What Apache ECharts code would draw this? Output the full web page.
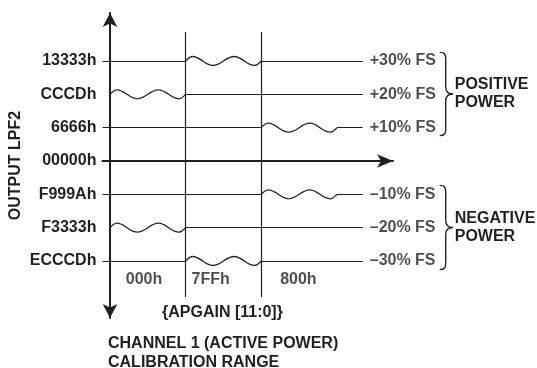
<!DOCTYPE html>
<html>
<head>
<meta charset="utf-8">
<script src="https://cdn.jsdelivr.net/npm/echarts@6/dist/echarts.min.js"></script>
<style>
  html, body { margin: 0; padding: 0; background: #fff; }
  #chart { width: 537px; height: 368px; }
</style>
</head>
<body>
<div id="chart"></div>
<script>
// output levels (% of full scale) with their codes
const levels = [30, 20, 10, 0, -10, -20, -30];
const levelCodes = ["13333h", "CCCDh", "6666h", "00000h", "F999Ah", "F3333h", "ECCCDh"];
const levelFs = ["+30% FS", "+20% FS", "+10% FS", "", "\u201310% FS", "\u201320% FS", "\u201330% FS"];
// APGAIN column in which each level carries the ripple (null = none)
const rippleColumn = [1, 0, 2, null, 2, 0, 1];
const columns = ["000h", "7FFh", "800h"];
const columnLabelX = [0.45, 1.33, 2.49];
const dividers = [1, 2];
const groupNames = ["POSITIVE\nPOWER", "NEGATIVE\nPOWER"];
const groupTop = [32.6, -7.3];
const groupBottom = [7.6, -32.6];

const lineEnd = 3.34;
const ink = "#231f20";
const font = "Liberation Sans, Arial, sans-serif";
const fs = 16;

const chart = echarts.init(document.getElementById("chart"));

const segments = [];
levels.forEach((lv, i) => {
  if (lv === 0) return;
  const c = rippleColumn[i];
  if (c > 0) segments.push({ coords: [[-0.1, lv], [c, lv]] });
  segments.push({ coords: [[c + 1, lv], [lineEnd, lv]] });
});
dividers.forEach((d) => {
  segments.push({ coords: [[d, 38.7], [d, -40.8]] });
});

const ripples = [];
levels.forEach((lv, i) => {
  if (rippleColumn[i] !== null) ripples.push([rippleColumn[i], lv]);
});

// ripple glyph: key points along the column (fraction, direction)
const rippleT = [0, 0.09, 0.36, 0.64, 0.91, 1];
const rippleD = [0, -1, 1, -1, 1, 0];

const renderRipple = (params, api) => {
  const p0 = api.coord([api.value(0), api.value(1)]);
  const p1 = api.coord([api.value(0) + 1, api.value(1)]);
  const w = p1[0] - p0[0];
  const amp = 4.5;
  const children = [];
  for (let k = 0; k < rippleT.length - 1; k++) {
    const xa = p0[0] + rippleT[k] * w;
    const xb = p0[0] + rippleT[k + 1] * w;
    const ya = p0[1] + rippleD[k] * amp;
    const yb = p0[1] + rippleD[k + 1] * amp;
    const dx = xb - xa;
    let c1y = ya;
    let c2y = yb;
    if (rippleD[k] === 0) c1y = ya + (yb - ya) * 0.55;
    if (rippleD[k + 1] === 0) c2y = yb + (ya - yb) * 0.55;
    children.push({
      type: "bezierCurve",
      shape: {
        x1: xa, y1: ya, x2: xb, y2: yb,
        cpx1: xa + dx * 0.38, cpy1: c1y,
        cpx2: xb - dx * 0.38, cpy2: c2y,
      },
      style: { stroke: ink, lineWidth: 1.3, fill: null },
    });
  }
  return { type: "group", children: children };
};

const renderBrace = (params, api) => {
  const top = api.coord([lineEnd, api.value(0)]);
  const bot = api.coord([lineEnd, api.value(1)]);
  const xl = top[0] + 77;
  const xm = xl + 6;
  const xt = xl + 13;
  const yt = top[1];
  const yb = bot[1];
  const ym = (yt + yb) / 2;
  const st = { stroke: ink, lineWidth: 1.4, fill: null };
  const bz = (x1, y1, cpx1, cpy1, cpx2, cpy2, x2, y2) => ({
    type: "bezierCurve",
    shape: { x1, y1, cpx1, cpy1, cpx2, cpy2, x2, y2 },
    style: st,
  });
  return {
    type: "group",
    children: [
      bz(xl, yt, xl + 5, yt, xm, yt + 2, xm, yt + 7),
      { type: "line", shape: { x1: xm, y1: yt + 7, x2: xm, y2: ym - 7 }, style: st },
      bz(xm, ym - 7, xm, ym - 2, xt - 4, ym, xt, ym),
      bz(xt, ym, xt - 4, ym, xm, ym + 2, xm, ym + 7),
      { type: "line", shape: { x1: xm, y1: ym + 7, x2: xm, y2: yb - 7 }, style: st },
      bz(xm, yb - 7, xm, yb - 2, xl + 5, yb, xl, yb),
      {
        type: "text",
        style: {
          text: groupNames[params.dataIndex],
          x: xt + 2,
          y: ym,
          verticalAlign: "middle",
          align: "left",
          font: "bold " + fs + "px " + font,
          lineHeight: 18,
          fill: ink,
        },
      },
    ],
  };
};

const option = {
  animation: false,
  backgroundColor: "#fff",
  title: [
    {
      text: "{APGAIN [11:0]}",
      left: 162,
      top: 304,
      padding: 0,
      textStyle: { fontFamily: font, fontSize: fs, fontWeight: "bold", color: ink, lineHeight: 18 },
    },
    {
      text: "CHANNEL 1 (ACTIVE POWER)\nCALIBRATION RANGE",
      left: 108,
      top: 334,
      padding: 0,
      textStyle: { fontFamily: font, fontSize: fs, fontWeight: "bold", color: ink, lineHeight: 19 },
    },
  ],
  grid: {
    left: 102.43,
    right: 144,
    top: 13,
    bottom: 50,
    containLabel: false,
    outerBoundsMode: "none",
  },
  xAxis: {
    type: "value",
    min: -0.1,
    max: 3.74,
    axisLine: {
      onZero: true,
      symbol: ["none", "arrow"],
      symbolSize: [10, 16],
      lineStyle: { color: ink, width: 2 },
    },
    axisTick: { show: false },
    axisLabel: { show: false },
    splitLine: { show: false },
  },
  yAxis: {
    type: "value",
    min: -47.1,
    max: 44.4,
    name: "OUTPUT LPF2",
    nameLocation: "middle",
    nameRotate: 90,
    nameGap: 79,
    nameMoveOverlap: false,
    nameTextStyle: { fontFamily: font, fontSize: fs, fontWeight: "bold", color: ink },
    axisLine: {
      onZero: true,
      symbol: ["arrow", "arrow"],
      symbolSize: [11, 14],
      lineStyle: { color: ink, width: 2 },
    },
    axisTick: { show: false },
    axisLabel: {
      customValues: levels,
      margin: 6,
      fontFamily: font,
      fontSize: fs,
      fontWeight: "bold",
      color: ink,
      formatter: (v) => levelCodes[levels.indexOf(v)] || "",
    },
    splitLine: { show: false },
  },
  series: [
    {
      type: "lines",
      coordinateSystem: "cartesian2d",
      silent: true,
      lineStyle: { color: ink, width: 1.2, opacity: 1 },
      data: segments,
    },
    {
      type: "custom",
      silent: true,
      clip: false,
      renderItem: renderRipple,
      data: ripples,
    },
    {
      type: "scatter",
      silent: true,
      symbolSize: 0,
      label: {
        show: true,
        position: "right",
        distance: 7,
        fontFamily: font,
        fontSize: fs,
        fontWeight: "bold",
        color: ink,
        formatter: (p) => levelFs[p.dataIndex],
      },
      data: levels.map((lv) => [lineEnd, lv]),
    },
    {
      type: "scatter",
      silent: true,
      symbolSize: 0,
      label: {
        show: true,
        position: "inside",
        fontFamily: font,
        fontSize: fs,
        fontWeight: "bold",
        color: ink,
        formatter: (p) => columns[p.dataIndex],
      },
      data: columns.map((c, i) => [columnLabelX[i], -35.7]),
    },
    {
      type: "custom",
      silent: true,
      clip: false,
      renderItem: renderBrace,
      data: groupTop.map((t, i) => [t, groupBottom[i]]),
    },
  ],
};

chart.setOption(option);
</script>
</body>
</html>
